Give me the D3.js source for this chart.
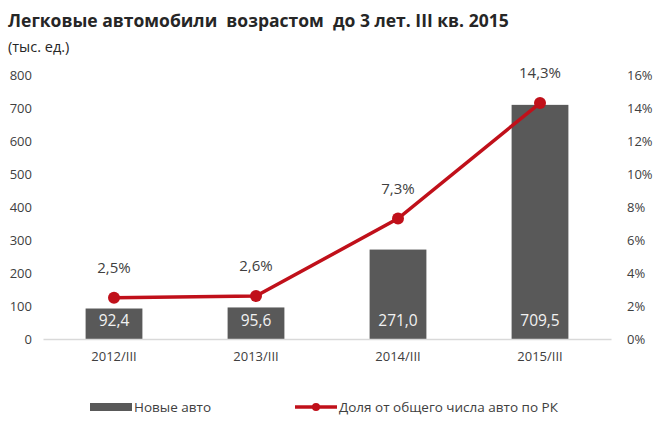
<!DOCTYPE html>
<html>
<head>
<meta charset="utf-8">
<script src="https://cdn.jsdelivr.net/npm/d3@7"></script>
<style>
  body { margin: 0; background: #fff; }
  svg text { font-family: "Open Sans", "Noto Sans", sans-serif; }
</style>
</head>
<body>
<div id="chart"></div>
<script>
var categories = ["2012/III", "2013/III", "2014/III", "2015/III"];
var newCars = [92.4, 95.6, 271.0, 709.5];
var sharePct = [2.5, 2.6, 7.3, 14.3];
var leftTicks = [0, 100, 200, 300, 400, 500, 600, 700, 800];
var rightTicks = [0, 2, 4, 6, 8, 10, 12, 14, 16];

var width = 658, height = 430;
var fmt = d3.format(".1f");
function ru(v){ return fmt(v).replace(".", ","); }

var svg = d3.select("#chart").append("svg")
    .attr("width", width).attr("height", height);

svg.append("text").attr("x", 8).attr("y", 27)
    .style("font-size", "17.5px").style("font-weight", "bold").style("white-space", "pre")
    .attr("fill", "#262626")
    .text("Легковые автомобили  возрастом  до 3 лет. III кв. 2015");
svg.append("text").attr("x", 8).attr("y", 52)
    .style("font-size", "14.5px").attr("fill", "#262626")
    .text("(тыс. ед.)");

var x = d3.scaleBand().domain(categories).range([43, 611]).paddingInner(0.6).paddingOuter(0.3);
var y = d3.scaleLinear().domain([0, 800]).range([339, 75]);
var y2 = d3.scaleLinear().domain([0, 16]).range([339, 75]);

// left axis
var la = svg.append("g").attr("transform", "translate(32,0)")
    .call(d3.axisLeft(y).tickValues(leftTicks).tickSize(0).tickPadding(0));
la.select(".domain").remove();
la.selectAll("text").style("font-size", "13px").attr("fill", "#404040").style("font-family", "Open Sans");

// right axis
var ra = svg.append("g").attr("transform", "translate(627,0)")
    .call(d3.axisRight(y2).tickValues(rightTicks).tickSize(0).tickPadding(0).tickFormat(function(d){ return d + "%"; }));
ra.select(".domain").remove();
ra.selectAll("text").style("font-size", "13px").attr("fill", "#404040").style("font-family", "Open Sans");

// bars
svg.selectAll("rect.bar").data(newCars).enter().append("rect")
    .attr("class", "bar")
    .attr("x", function(d, i){ return x(categories[i]); })
    .attr("width", x.bandwidth())
    .attr("y", function(d){ return y(d); })
    .attr("height", function(d){ return y(0) - y(d); })
    .attr("fill", "#595959");

svg.selectAll("text.barlbl").data(newCars).enter().append("text")
    .attr("class", "barlbl")
    .attr("x", function(d, i){ return x(categories[i]) + x.bandwidth() / 2; })
    .attr("y", y(0) - 13)
    .attr("text-anchor", "middle")
    .style("font-size", "15.5px").attr("fill", "#f2f2f2")
    .text(function(d){ return ru(d); });

// baseline
var xa = svg.append("g").attr("transform", "translate(0," + y(0) + ")")
    .call(d3.axisBottom(x).tickSize(0).tickPadding(13));
xa.select(".domain").attr("stroke", "#d9d9d9").attr("stroke-width", 1.5);
xa.selectAll("text").style("font-size", "13px").attr("fill", "#404040").style("font-family", "Open Sans");

// line
var cx = function(d, i){ return x(categories[i]) + x.bandwidth() / 2; };
var line = d3.line().x(cx).y(function(d){ return y2(d); });
svg.append("path").datum(sharePct).attr("d", line)
    .attr("fill", "none").attr("stroke", "#c0101a").attr("stroke-width", 3.5);
svg.selectAll("circle.pt").data(sharePct).enter().append("circle")
    .attr("class", "pt").attr("cx", cx).attr("cy", function(d){ return y2(d); })
    .attr("r", 6).attr("fill", "#c0101a");
svg.selectAll("text.ptlbl").data(sharePct).enter().append("text")
    .attr("class", "ptlbl").attr("x", cx).attr("y", function(d){ return y2(d) - 25; })
    .attr("text-anchor", "middle").style("font-size", "15px").attr("fill", "#404040")
    .text(function(d){ return ru(d) + "%"; });

// legend
var lg = svg.append("g");
lg.append("rect").attr("x", 90).attr("y", 403).attr("width", 42).attr("height", 8).attr("fill", "#595959");
lg.append("text").attr("x", 134).attr("y", 412).style("font-size", "13.5px").attr("fill", "#404040").text("Новые авто");
lg.append("line").attr("x1", 295).attr("x2", 337).attr("y1", 407).attr("y2", 407)
    .attr("stroke", "#c0101a").attr("stroke-width", 3.5);
lg.append("circle").attr("cx", 316).attr("cy", 407).attr("r", 4).attr("fill", "#c0101a");
lg.append("text").attr("x", 339).attr("y", 412).style("font-size", "13.5px").attr("fill", "#404040").text("Доля от общего числа авто по РК");
</script>
</body>
</html>
